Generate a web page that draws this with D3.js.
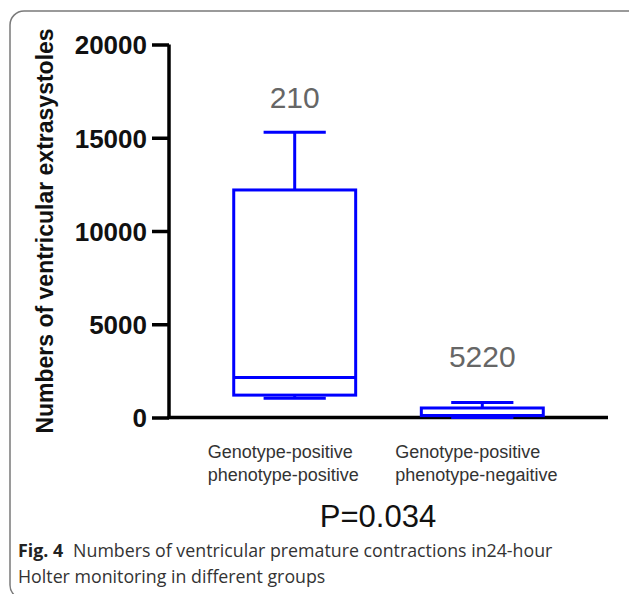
<!DOCTYPE html>
<meta charset="utf-8" />
<script src="https://d3js.org/d3.v7.js"></script>
<style>
  body { margin: 0; background: white; }
</style>
<div id="my_dataviz"></div>

<script>
  // box plot data
  const groups = ["Genotype-positive phenotype-positive", "Genotype-positive phenotype-negaitive"];
  const groupLines = [["Genotype-positive", "phenotype-positive"], ["Genotype-positive", "phenotype-negaitive"]];
  const nLabels = ["210", "5220"];
  const minVals = [1030, 0];
  const q1Vals = [1200, 100];
  const medianVals = [2150, 110];
  const q3Vals = [12200, 510];
  const maxVals = [15300, 800];
  const yTicks = [0, 5000, 10000, 15000, 20000];

  const width = 629, height = 594;
  const svg = d3.select("#my_dataviz")
    .append("svg")
    .attr("width", width)
    .attr("height", height);

  // figure frame
  svg.append("rect")
    .attr("x", 10).attr("y", 11)
    .attr("width", 640).attr("height", 588)
    .attr("rx", 14)
    .attr("fill", "none")
    .attr("stroke", "#7a7a7a")
    .attr("stroke-width", 1.5);

  const y = d3.scaleLinear().domain([0, 20000]).range([417.5, 44.5]);
  const x = d3.scaleBand().domain(groups).range([169, 608]).paddingInner(0.35).paddingOuter(0.345);

  // y axis
  const yAxis = svg.append("g")
    .attr("transform", "translate(169,0)")
    .call(d3.axisLeft(y).tickValues(yTicks).tickFormat(d3.format("d")).tickSize(17).tickPadding(5).tickSizeOuter(0));
  yAxis.select(".domain").attr("stroke-width", 3.5).attr("d", "M0," + y(20000) + "V" + y(0));
  yAxis.selectAll(".tick line").attr("stroke-width", 3.5);
  yAxis.selectAll("text")
    .style("font-family", "'Liberation Sans', Arial, sans-serif")
    .style("font-weight", "bold")
    .style("font-size", "26px")
    .attr("fill", "#111")
    .attr("dy", "0.36em");

  // x axis line
  svg.append("line")
    .attr("x1", 167.5).attr("x2", 608)
    .attr("y1", y(0)).attr("y2", y(0))
    .attr("stroke", "#000").attr("stroke-width", 3.5);

  // y axis title
  svg.append("text")
    .attr("transform", "translate(53," + (y(0) + y(20000)) / 2 + ") rotate(-90)")
    .attr("text-anchor", "middle")
    .style("font-family", "'Liberation Sans', Arial, sans-serif")
    .style("font-weight", "bold")
    .style("font-size", "23px")
    .attr("fill", "#111")
    .text("Numbers of ventricular extrasystoles");

  const boxes = groups.map((g, i) => ({
    g: g, n: nLabels[i], lines: groupLines[i],
    min: minVals[i], q1: q1Vals[i], med: medianVals[i], q3: q3Vals[i], max: maxVals[i]
  }));

  const blue = "#0000ff";
  const bw = x.bandwidth();
  const box = svg.append("g").selectAll("g").data(boxes).join("g");

  // whiskers
  box.append("line")
    .attr("x1", d => x(d.g) + bw / 2).attr("x2", d => x(d.g) + bw / 2)
    .attr("y1", d => y(d.max)).attr("y2", d => y(d.q3))
    .attr("stroke", blue).attr("stroke-width", 3);
  box.append("line")
    .attr("x1", d => x(d.g) + bw / 2).attr("x2", d => x(d.g) + bw / 2)
    .attr("y1", d => y(d.min)).attr("y2", d => y(d.q1))
    .attr("stroke", blue).attr("stroke-width", 3);
  // caps
  box.append("line")
    .attr("x1", d => x(d.g) + bw * 0.245).attr("x2", d => x(d.g) + bw * 0.755)
    .attr("y1", d => y(d.max)).attr("y2", d => y(d.max))
    .attr("stroke", blue).attr("stroke-width", 3);
  box.append("line")
    .attr("x1", d => x(d.g) + bw * 0.245).attr("x2", d => x(d.g) + bw * 0.755)
    .attr("y1", d => y(d.min)).attr("y2", d => y(d.min))
    .attr("stroke", blue).attr("stroke-width", 3);
  // box
  box.append("rect")
    .attr("x", d => x(d.g)).attr("width", bw)
    .attr("y", d => y(d.q3)).attr("height", d => y(d.q1) - y(d.q3))
    .attr("fill", "white")
    .attr("stroke", blue).attr("stroke-width", 3);
  // median
  box.append("line")
    .attr("x1", d => x(d.g)).attr("x2", d => x(d.g) + bw)
    .attr("y1", d => y(d.med)).attr("y2", d => y(d.med))
    .attr("stroke", blue).attr("stroke-width", 3);

  // n labels (placed like the original, above each box)
  const nLabelY = [108, 367];
  box.append("text")
    .attr("x", d => x(d.g) + bw / 2)
    .attr("y", (d, i) => nLabelY[i])
    .attr("text-anchor", "middle")
    .style("font-family", "'Liberation Sans', Arial, sans-serif")
    .style("font-size", "30px")
    .attr("fill", "#666")
    .text(d => d.n);

  // category labels
  box.append("text")
    .attr("x", d => x(d.g) + bw / 2 - 87)
    .attr("y", 458)
    .style("font-family", "'Liberation Sans', Arial, sans-serif")
    .style("font-size", "18px")
    .attr("fill", "#333")
    .selectAll("tspan")
    .data(d => d.lines)
    .join("tspan")
    .attr("x", function () { return d3.select(this.parentNode).attr("x"); })
    .attr("dy", (d, i) => i ? 23 : 0)
    .text(d => d);

  svg.append("text")
    .attr("x", 378).attr("y", 527)
    .attr("text-anchor", "middle")
    .style("font-family", "'Liberation Sans', Arial, sans-serif")
    .style("font-size", "31px")
    .attr("fill", "#111")
    .text("P=0.034");

  // caption
  const cap = svg.append("text")
    .attr("x", 18).attr("y", 557)
    .style("font-family", "'Open Sans', sans-serif")
    .style("font-size", "17.8px")
    .attr("fill", "#333");
  cap.append("tspan").style("font-weight", "bold").attr("fill", "#222").text("Fig. 4");
  cap.append("tspan").attr("dx", 10).text("Numbers of ventricular premature contractions in24-hour");
  svg.append("text")
    .attr("x", 18).attr("y", 583)
    .style("font-family", "'Open Sans', sans-serif")
    .style("font-size", "17.8px")
    .attr("fill", "#333")
    .text("Holter monitoring in different groups");
</script>
